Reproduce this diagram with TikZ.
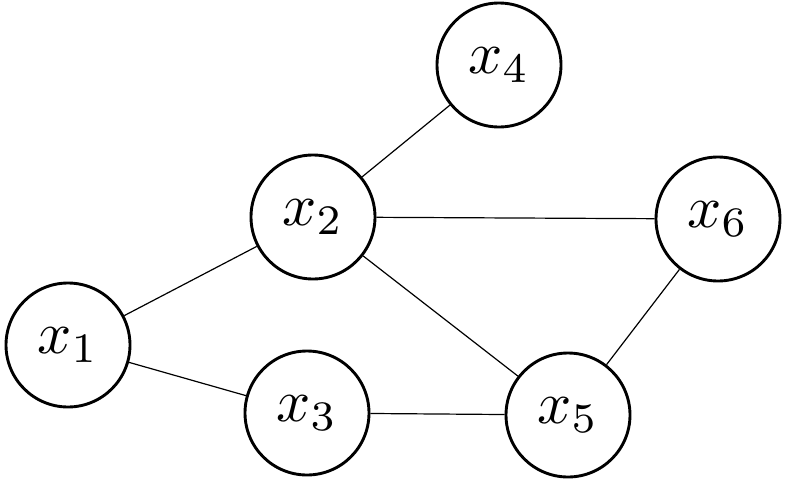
\documentclass[tikz,border=0pt]{standalone}
\usepackage{graphicx}
\newcommand{\vlabel}[1]{\scalebox{6}{$#1$}}
\begin{document}
\begin{tikzpicture}[x=1pt,y=-1pt,
  vert/.style={circle,draw,line width=2.9pt,minimum size=124pt,inner sep=0pt},
  edge/.style={line width=1.2pt}]
\useasboundingbox (0,0) rectangle (786,479);
\node[vert] (x1) at (68,345) {\vlabel{x_1}};
\node[vert] (x2) at (313,217) {\vlabel{x_2}};
\node[vert] (x3) at (307,413) {\vlabel{x_3}};
\node[vert] (x4) at (499,65) {\vlabel{x_4}};
\node[vert] (x5) at (568,415) {\vlabel{x_5}};
\node[vert] (x6) at (718,219) {\vlabel{x_6}};
\draw[edge] (x1) -- (x2);
\draw[edge] (x1) -- (x3);
\draw[edge] (x2) -- (x4);
\draw[edge] (x2) -- (x6);
\draw[edge] (x2) -- (x5);
\draw[edge] (x3) -- (x5);
\draw[edge] (x5) -- (x6);
\end{tikzpicture}
\end{document}
